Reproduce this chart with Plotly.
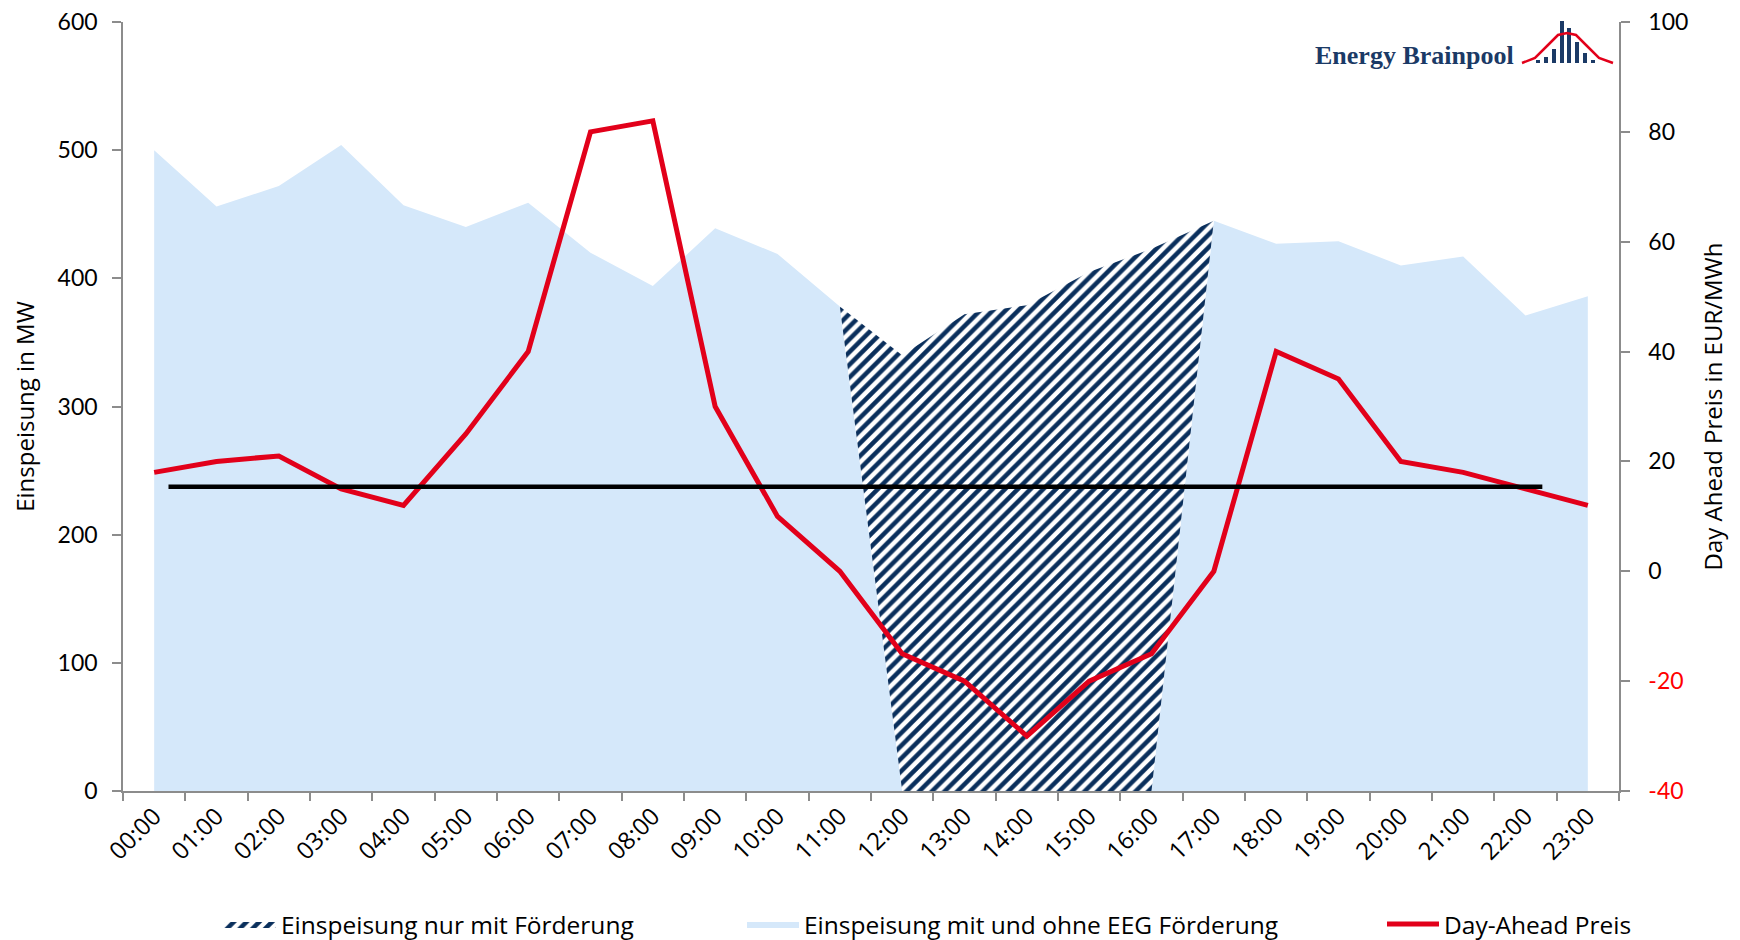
import plotly.graph_objects as go

hours = [f"{h:02d}:00" for h in range(24)]
# Einspeisung in MW (stacked areas)
mw_mit_und_ohne = [500, 456, 472, 504, 457, 440, 459, 420, 394, 439, 419, 378,
                   0, 0, 0, 0, 0,
                   445, 427, 429, 410, 417, 371, 386]
mw_nur_mit = [0, 0, 0, 0, 0, 0, 0, 0, 0, 0, 0, 0,
              340, 372, 379, 405, 423,
              0, 0, 0, 0, 0, 0, 0]
# Day-Ahead price in EUR/MWh
price = [18, 20, 21, 15, 12, 25, 40, 80, 82, 30, 10, 0,
         -15, -20, -30, -20, -15, 0, 40, 35, 20, 18, 15, 12]
# average reference line (price axis)
avg_x = [0.23, 22.27]
avg_price = [15.4, 15.4]

left_ticks = [0, 100, 200, 300, 400, 500, 600]
right_ticks = [-40, -20, 0, 20, 40, 60, 80, 100]

BLUE = "#D5E8FA"
NAVY = "#0A2F5C"
RED = "#E2001A"
TXT = "Open Sans"
NUM = "Lato"

fig = go.Figure()
fig.add_trace(go.Scatter(
    x=hours, y=mw_mit_und_ohne, stackgroup="mw", mode="lines",
    line=dict(width=0, color=BLUE), fillcolor=BLUE,
    name="Einspeisung mit und ohne EEG Förderung", legend="legend2",
    hoverinfo="skip"))
fig.add_trace(go.Scatter(
    x=hours, y=mw_nur_mit, stackgroup="mw", mode="lines",
    line=dict(width=0, color=NAVY), fillcolor="white",
    fillpattern=dict(shape="/", fgcolor=NAVY, bgcolor="white", fgopacity=1,
                     size=9, solidity=0.5),
    name="Einspeisung nur mit Förderung", legend="legend",
    hoverinfo="skip"))
fig.add_trace(go.Scatter(
    x=avg_x, y=avg_price, yaxis="y2", xaxis="x2", mode="lines",
    line=dict(width=4.5, color="black"), showlegend=False, hoverinfo="skip"))
fig.add_trace(go.Scatter(
    x=hours, y=price, yaxis="y2", mode="lines",
    line=dict(width=5, color=RED), name="Day-Ahead Preis", legend="legend3",
    hoverinfo="skip"))

ticktext_r = [f'<span style="color:#FF0000">{v}</span>' if v < 0 else str(v) for v in right_ticks]

# page has an 8px body margin: figure is drawn 8px right/down
OFF = 8
axis_line = "#8C8C8C"
leg_font = dict(family=TXT, size=24.5, color="black")
leg_y = -0.173
fig.update_layout(
    width=1740 - OFF, height=940 - OFF,
    margin=dict(l=123 - OFF, r=121, t=22 - OFF, b=149, autoexpand=False),
    plot_bgcolor="white", paper_bgcolor="white",
    showlegend=True,
    xaxis=dict(type="category", range=[-0.5, 23.5], tickson="boundaries",
               ticks="outside", ticklen=8, tickcolor=axis_line, tickwidth=1.5,
               showline=True, linecolor=axis_line, linewidth=1.5, showgrid=False,
               tickangle=-45, tickfont=dict(family=TXT, size=24, color="black"),
               zeroline=False, automargin=False),
    xaxis2=dict(overlaying="x", range=[-0.5, 23.5], visible=False),
    yaxis=dict(range=[0, 600], tickvals=left_ticks, ticks="outside", ticklen=9,
               tickcolor=axis_line, tickwidth=1.5, showline=True, linecolor=axis_line,
               linewidth=1.5, showgrid=False, zeroline=False, automargin=False,
               ticklabelstandoff=10, ticklabeloverflow="allow",
               tickfont=dict(family=NUM, size=23, color="black"),
               title=dict(text="Einspeisung in MW", font=dict(family=TXT, size=24, color="black"),
                          standoff=16)),
    yaxis2=dict(range=[-40, 100], overlaying="y", side="right", tickvals=right_ticks,
                ticktext=ticktext_r, ticks="outside", ticklen=9, tickcolor=axis_line,
                tickwidth=1.5, showline=True, linecolor=axis_line, linewidth=1.5,
                showgrid=False, zeroline=False, automargin=False,
                ticklabelstandoff=14, ticklabeloverflow="allow",
                tickfont=dict(family=NUM, size=23, color="black"),
                title=dict(text="Day Ahead Preis in EUR/MWh",
                           font=dict(family=TXT, size=24, color="black"), standoff=18)),
    legend=dict(x=(219 - 123) / 1496, y=leg_y, xanchor="left", yanchor="middle",
                itemwidth=52, font=leg_font, bgcolor="rgba(0,0,0,0)"),
    legend2=dict(x=(742 - 123) / 1496, y=leg_y, xanchor="left", yanchor="middle",
                 itemwidth=52, font=leg_font, bgcolor="rgba(0,0,0,0)"),
    legend3=dict(x=(1382 - 123) / 1496, y=leg_y, xanchor="left", yanchor="middle",
                 itemwidth=52, font=leg_font, bgcolor="rgba(0,0,0,0)"),
)

# Logo "Energy Brainpool" (page pixel positions -> paper coords)
def px_x(px):
    return (px - 123) / 1496

def px_y(py):
    return (791 - py) / 769

fig.add_annotation(xref="paper", yref="paper", x=px_x(1516), y=px_y(55),
                   xanchor="right", yanchor="middle", showarrow=False,
                   text="<b>Energy Brainpool</b>",
                   font=dict(family="Liberation Serif", size=26, color="#1B3A66"))
logo_bar_x = [1538, 1546, 1554, 1562, 1569, 1577, 1585, 1593]
logo_bar_top = [60, 57, 49, 21, 28, 42, 53, 60]
for bx, bt in zip(logo_bar_x, logo_bar_top):
    fig.add_shape(type="rect", xref="paper", yref="paper",
                  x0=px_x(bx - 2), x1=px_x(bx + 2), y0=px_y(63), y1=px_y(bt),
                  fillcolor="#1B3A66", line=dict(width=0))
curve_pts = [(1522, 63), (1535, 58), (1548, 45), (1558, 35), (1567, 33), (1576, 35),
             (1586, 45), (1599, 58), (1613, 63)]
path = "M " + " L ".join(f"{px_x(a)},{px_y(b)}" for a, b in curve_pts)
fig.add_shape(type="path", xref="paper", yref="paper", path=path,
              line=dict(color=RED, width=2.5))

fig.write_html("out.html")
